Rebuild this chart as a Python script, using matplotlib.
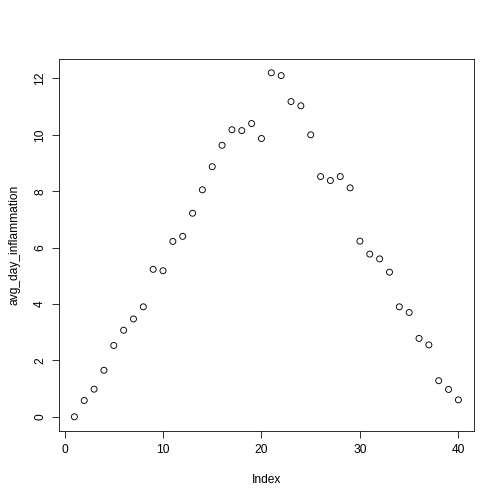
import matplotlib
matplotlib.use('Agg')
import matplotlib.pyplot as plt
import numpy as np

plt.rcParams['font.family'] = ['Liberation Sans', 'DejaVu Sans']

avg_day_inflammation = [0.00, 0.58, 0.98, 1.65, 2.53, 3.07, 3.47, 3.90, 5.23, 5.18,
                        6.22, 6.40, 7.22, 8.05, 8.87, 9.63, 10.18, 10.15, 10.40, 9.87,
                        12.20, 12.10, 11.18, 11.03, 10.00, 8.52, 8.38, 8.52, 8.12, 6.23,
                        5.77, 5.60, 5.13, 3.90, 3.70, 2.78, 2.55, 1.28, 0.97, 0.60]
index = np.arange(1, len(avg_day_inflammation) + 1)

fig = plt.figure(figsize=(7, 7), dpi=72)
ax = fig.add_axes([0.82 / 7, 1.02 / 7, 1 - (0.82 + 0.42) / 7, 1 - (1.02 + 0.82) / 7])
ax.scatter(index, avg_day_inflammation, s=36, facecolors='none', edgecolors='black', linewidths=0.9)

lo, hi = 1, 40
pad = (hi - lo) * 0.04
ax.set_xlim(lo - pad, hi + pad)
ymax = max(avg_day_inflammation)
ax.set_ylim(-ymax * 0.04, ymax * 1.04)
ax.set_xticks([0, 10, 20, 30, 40])
ax.set_yticks([0, 2, 4, 6, 8, 10, 12])
ax.tick_params(labelsize=12, length=7, width=0.8, pad=6)
plt.setp(ax.get_yticklabels(), rotation=90, va='center')
for s in ax.spines.values():
    s.set_linewidth(0.8)
ax.set_xlabel('Index', fontsize=12, labelpad=18)
ax.set_ylabel('avg_day_inflammation', fontsize=12, labelpad=14)

fig.savefig('out.png', dpi=72)
